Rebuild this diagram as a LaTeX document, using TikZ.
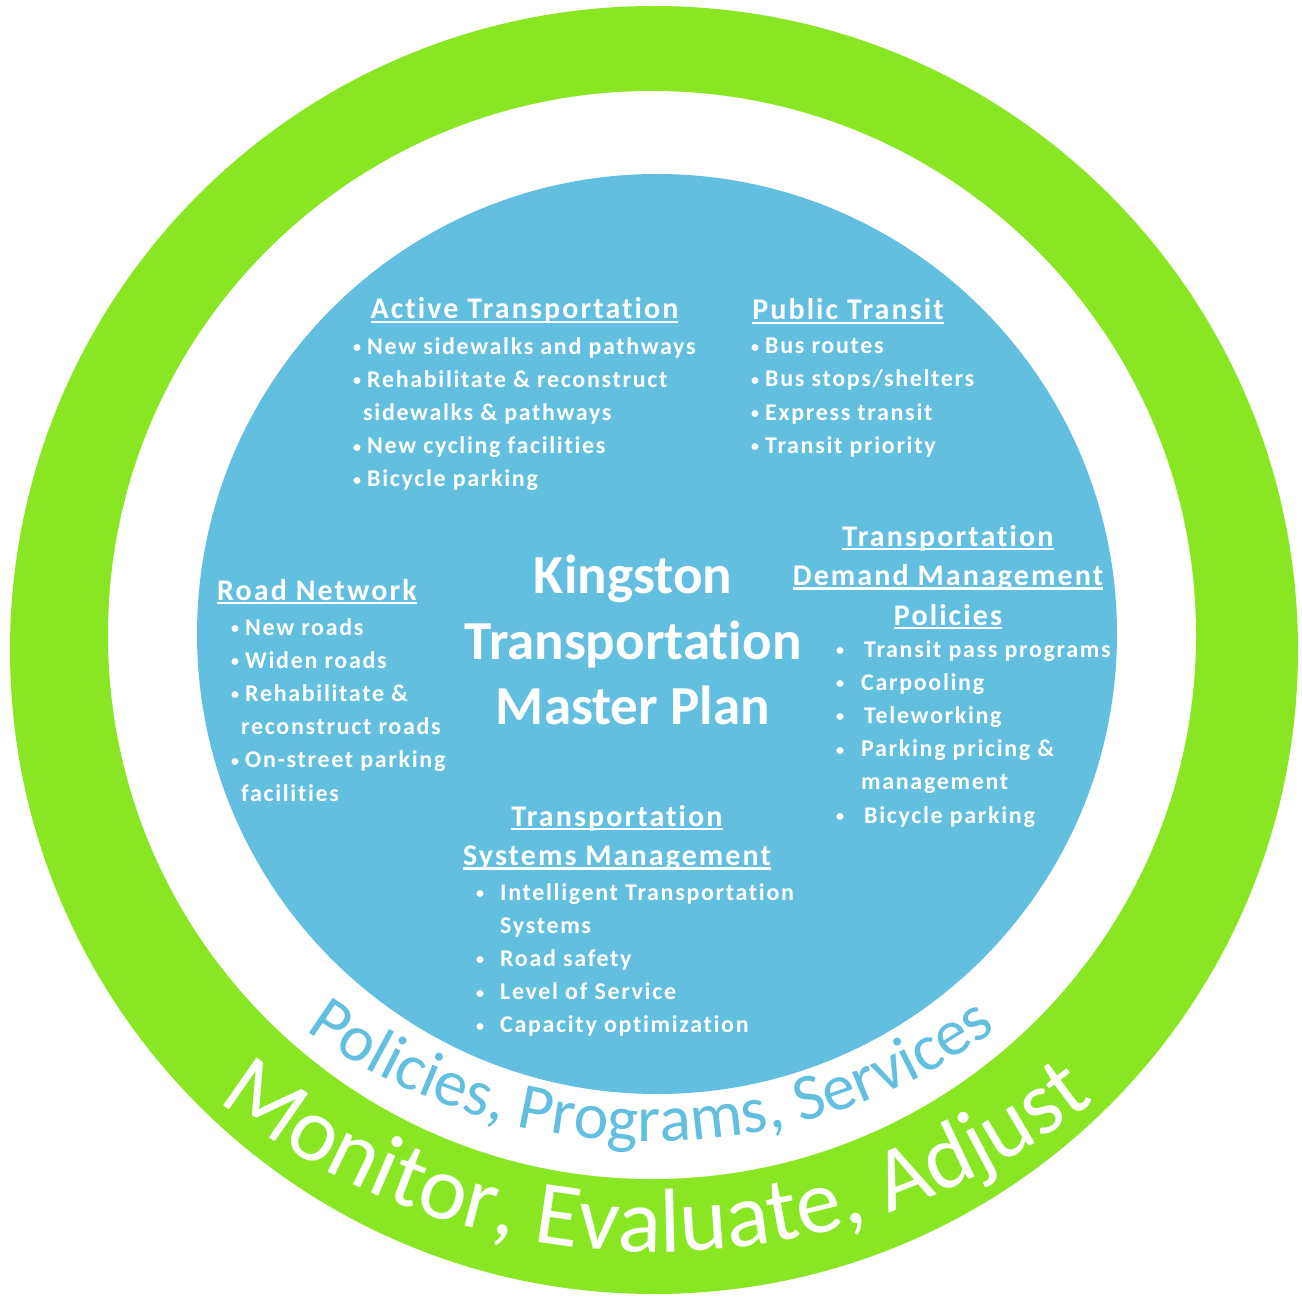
\documentclass[tikz,border=0pt]{standalone}
\usepackage{fontspec}
\setmainfont{Carlito}[Ligatures=NoCommon]
\newfontfamily\spacedfont[LetterSpace=7,Ligatures=NoCommon]{Carlito}
\usetikzlibrary{positioning,decorations.text}

\definecolor{ringgreen}{RGB}{137,230,35}
\definecolor{poolblue}{RGB}{99,191,223}

% underlined heading line, rule a little below the baseline
\newcommand{\uln}[1]{\setbox0=\hbox{#1}\rlap{\rule[-4pt]{\wd0}{2.4pt}}\box0}
% small bullet hung to the left of the item text
\newcommand{\bul}[1][6pt]{\llap{\raisebox{1.5pt}{\fontsize{16}{16}\selectfont•}\hspace{#1}}}
\newcommand{\ppsfont}{\fontsize{66}{70}\selectfont\color{poolblue}}
\newcommand{\meafont}{\fontsize{91}{95}\selectfont\color{white}}

\begin{document}
\begin{tikzpicture}[
    x=1pt, y=1pt,
    every node/.style={text=white, inner sep=0pt},
    heading/.style={font=\spacedfont\bfseries\fontsize{30}{39.5}\selectfont, align=center},
    itemlist/.style={font=\spacedfont\bfseries\fontsize{24}{33.2}\selectfont, align=left, anchor=north west},
    title/.style={font=\bfseries\fontsize{55}{65.5}\selectfont, align=center, anchor=north}
]
\useasboundingbox (0,0) rectangle (1302,-1297);
\fill[white] (0,0) rectangle (1302,-1297);

% ---------------- Rings ----------------
\coordinate (outerc) at (654,-650);
\coordinate (innerc) at (652,-635);
\coordinate (poolc) at (657,-634);
\fill[ringgreen] (outerc) circle[radius=644pt];
\fill[white] (innerc) circle[radius=544pt];
\fill[poolblue] (poolc) circle[radius=460pt];

% ---------------- Centre title ----------------
\node[title] (plan) at (633,-555) {Kingston\\Transportation\\Master Plan};

% ---------------- Active Transportation ----------------
\node[heading, anchor=base] (activehd) at (524.5,-319) {\uln{Active Transportation}};
\node[itemlist] (activeit) at (367,-337) {%
    \bul New sidewalks and pathways\\
    \bul Rehabilitate \& reconstruct\\
    \hspace{-4pt}sidewalks \& pathways\\
    \bul New cycling facilities\\
    \bul Bicycle parking};

% ---------------- Public Transit ----------------
\node[heading, anchor=base] (transithd) at (848,-320) {\uln{Public Transit}};
\node[itemlist] (transitit) at (765,-338) {%
    \bul Bus routes\\
    \bul Bus stops/shelters\\
    \bul Express transit\\
    \bul Transit priority};

% ---------------- Road Network ----------------
\node[heading, anchor=base] (roadhd) at (317,-600) {\uln{Road Network}};
\node[itemlist] (roadit) at (245,-618) {%
    \bul New roads\\
    \bul Widen roads\\
    \bul Rehabilitate \&\\
    \hspace{-4pt}reconstruct roads\\
    \bul On-street parking\\
    \hspace{-4pt}facilities};

% ---------------- Demand Management ----------------
\node[heading, anchor=north] (tdmhd) at (948,-525) {%
    \uln{Transportation}\\
    \uln{Demand Management}\\
    \uln{Policies}};
\node[itemlist] (tdmit) at (861,-640) {%
    \bul[17pt]\hspace{3pt}Transit pass programs\\
    \bul[17pt]Carpooling\\
    \bul[17pt]\hspace{3pt}Teleworking\\
    \bul[17pt]Parking pricing \&\\
    management\\
    \bul[17pt]\hspace{3pt}Bicycle parking};

% ---------------- Systems Management ----------------
\node[heading, anchor=north] (tsmhd) at (617,-805) {%
    \uln{Transportation}\\
    \uln{Systems Management}};
\node[itemlist] (tsmit) at (500,-883) {%
    \bul[16pt]Intelligent Transportation\\
    Systems\\
    \bul[16pt]Road safety\\
    \bul[16pt]Level of Service\\
    \bul[16pt]Capacity optimization};

% ---------------- Curved captions ----------------
\coordinate (ppsc) at (651,-551.5);
\path[decorate, decoration={text along path, text align=center,
        text={|\ppsfont|Policies, Programs, Services}}]
    (ppsc) ++(226:590pt) arc[start angle=226, end angle=314, radius=590pt];

\coordinate (meac) at (656,-540);
\path[decorate, decoration={text along path, text align=center,
        text={|\meafont|Monitor, Evaluate, Adjust}}]
    (meac) ++(226:712pt) arc[start angle=226, end angle=314, radius=712pt];

\end{tikzpicture}
\end{document}
